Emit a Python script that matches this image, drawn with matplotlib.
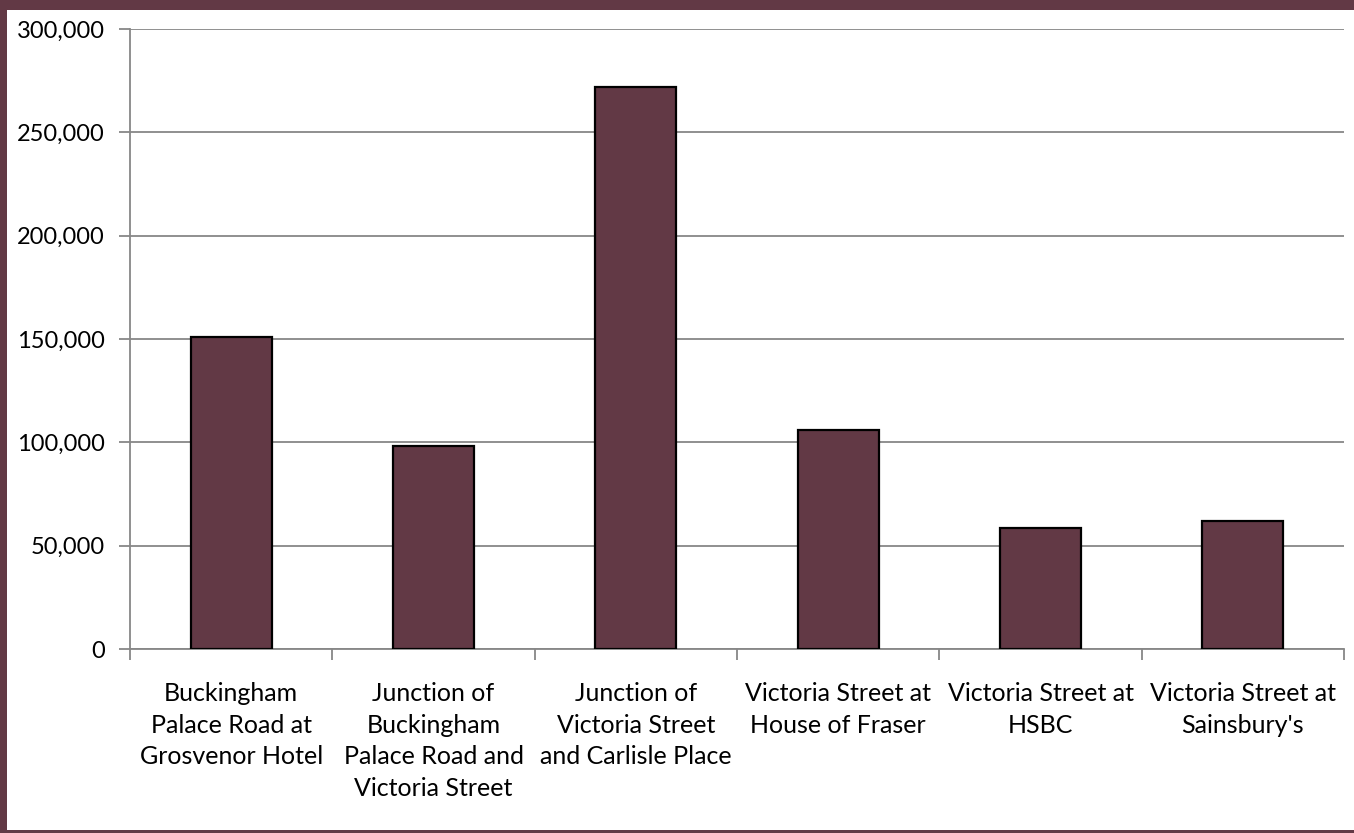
import numpy as np
import matplotlib.pyplot as plt
from matplotlib.patches import Rectangle
from matplotlib.ticker import FuncFormatter

plt.rcParams['font.family'] = ['Lato', 'DejaVu Sans']

locations = [
    'Buckingham\nPalace Road at\nGrosvenor Hotel',
    'Junction of\nBuckingham\nPalace Road and\nVictoria Street',
    'Junction of\nVictoria Street\nand Carlisle Place',
    'Victoria Street at\nHouse of Fraser',
    'Victoria Street at\nHSBC',
    "Victoria Street at\nSainsbury's",
]
counts = [151000, 98000, 272000, 106000, 58500, 62000]

maroon = '#623945'
grid_grey = '#878787'

fig = plt.figure(figsize=(13.54, 8.33), dpi=100)
fig.patch.set_facecolor(maroon)
# white panel inside the maroon frame
fig.patches.append(Rectangle((7 / 1354, 3 / 833), 1 - 7 / 1354, 1 - 13 / 833,
                             transform=fig.transFigure, facecolor='white',
                             edgecolor='none', zorder=-10))

ax = fig.add_axes([130 / 1354, 1 - 649 / 833, 1214 / 1354, 620 / 833])
ax.set_facecolor('none')

x = np.arange(len(counts))
ax.bar(x, counts, width=0.4, color=maroon, edgecolor='black', linewidth=1.6, zorder=3)

ax.set_xlim(-0.5, len(counts) - 0.5)
ax.set_ylim(0, 300000)
ax.set_yticks(np.arange(0, 300001, 50000))
ax.yaxis.set_major_formatter(FuncFormatter(lambda v, p: f'{int(v):,}'))
ax.grid(axis='y', color=grid_grey, linewidth=1.3, zorder=0)

ax.set_xticks(x)
ax.set_xticklabels(locations, linespacing=1.45)
ax.set_xticks(np.arange(-0.5, len(counts), 1), minor=True)
ax.tick_params(axis='x', which='major', length=0, pad=24, labelsize=18)
ax.tick_params(axis='x', which='minor', length=8, width=1.3, color=grid_grey)
ax.tick_params(axis='y', length=8, width=1.3, color=grid_grey, labelsize=17, pad=10)

for side in ['top', 'right']:
    ax.spines[side].set_visible(False)
for side in ['left', 'bottom']:
    ax.spines[side].set_color(grid_grey)
    ax.spines[side].set_linewidth(1.3)

plt.savefig('out.png', dpi=100, facecolor=fig.get_facecolor())
